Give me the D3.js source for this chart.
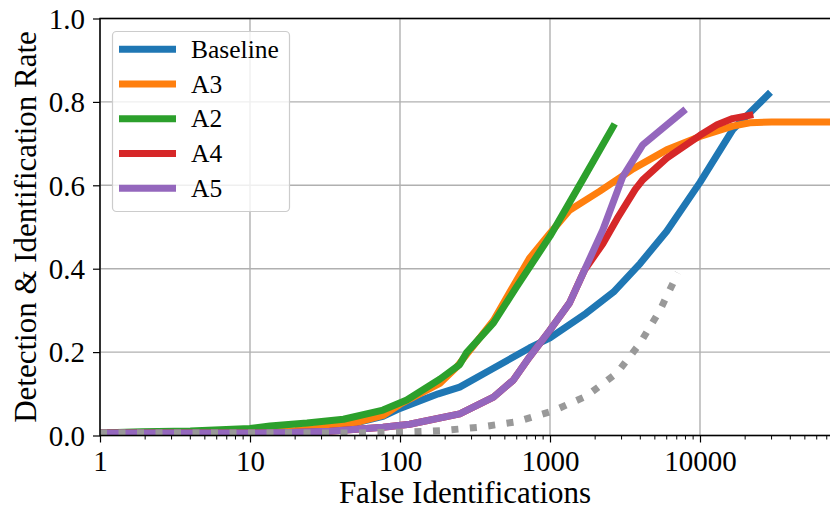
<!DOCTYPE html>
<html>
<head>
<meta charset="utf-8">
<script src="https://cdn.jsdelivr.net/npm/d3@7/dist/d3.min.js"></script>
<style>
  html, body { margin: 0; padding: 0; background: #fff; overflow: hidden; }
  svg { display: block; }
  text { font-family: "Liberation Serif", "Times New Roman", serif; fill: #000; }
</style>
</head>
<body>
<svg id="chart" width="830" height="516"></svg>
<script>
// ---------------- data ----------------
const seriesNames = ["Baseline", "A3", "A2", "A4", "A5"];
const seriesColors = ["#1f77b4", "#ff7f0e", "#2ca02c", "#d62728", "#9467bd"];

const baselineX = [1, 2, 5, 10, 20, 30, 40, 50, 77, 100, 180, 250, 400, 730, 1000, 1740, 2650, 4000, 6000, 10000, 16500, 28400];
const baselineY = [0.006, 0.006, 0.006, 0.007, 0.009, 0.015, 0.022, 0.03, 0.046, 0.065, 0.1, 0.116, 0.157, 0.21, 0.234, 0.293, 0.344, 0.413, 0.49, 0.607, 0.733, 0.817];

const a3X = [1, 2, 5, 10, 20, 30, 50, 77, 100, 184, 240, 420, 540, 730, 1000, 1350, 2150, 3600, 6000, 10000, 16500, 21500, 30000, 80000];
const a3Y = [0.006, 0.006, 0.006, 0.007, 0.012, 0.018, 0.03, 0.048, 0.075, 0.125, 0.165, 0.276, 0.344, 0.425, 0.485, 0.54, 0.586, 0.64, 0.685, 0.717, 0.742, 0.75, 0.752, 0.752];

const a2X = [1, 1.9, 4, 10, 13.6, 24, 42, 77, 111, 184, 250, 277, 420, 600, 1000, 1650, 2630];
const a2Y = [0.006, 0.009, 0.011, 0.017, 0.023, 0.03, 0.039, 0.061, 0.085, 0.135, 0.17, 0.198, 0.27, 0.357, 0.478, 0.613, 0.74];

const a4X = [1, 2, 5, 10, 18, 34, 77, 116, 250, 420, 570, 730, 1000, 1350, 1700, 2250, 2800, 3700, 4150, 6000, 10000, 13000, 16500, 21500];
const a4Y = [0.006, 0.006, 0.006, 0.006, 0.007, 0.01, 0.02, 0.027, 0.052, 0.092, 0.133, 0.188, 0.253, 0.318, 0.397, 0.46, 0.52, 0.59, 0.613, 0.665, 0.72, 0.745, 0.76, 0.768];

const a5X = [1, 2, 5, 10, 18, 34, 77, 116, 250, 420, 570, 730, 1000, 1350, 1700, 2250, 3050, 4150, 7700];
const a5Y = [0.006, 0.006, 0.006, 0.006, 0.007, 0.01, 0.02, 0.027, 0.052, 0.092, 0.133, 0.188, 0.253, 0.318, 0.397, 0.493, 0.62, 0.697, 0.777];

const refX = [1, 10, 50, 100, 150, 195, 340, 600, 1050, 1740, 2800, 3980, 5400, 7130];
const refY = [0.006, 0.006, 0.006, 0.008, 0.01, 0.012, 0.02, 0.033, 0.059, 0.094, 0.15, 0.221, 0.3, 0.39];

const xTickValues = [1, 10, 100, 1000, 10000];
const xTickLabels = ["1", "10", "100", "1000", "10000"];
const yTickValues = [0, 0.2, 0.4, 0.6, 0.8, 1.0];
const yTickLabels = ["0.0", "0.2", "0.4", "0.6", "0.8", "1.0"];
const xLabel = "False Identifications";
const yLabel = "Detection & Identification Rate";

// ---------------- layout ----------------
const pL = 100, pR = 832, pT = 18.5, pB = 435.5;
const svg = d3.select("#chart");

const x = d3.scaleLog().domain([1, Math.pow(10, (pR - pL) / 150)]).range([pL, pR]);
const y = d3.scaleLinear().domain([0, 1]).range([pB, pT]);

svg.append("defs").append("clipPath").attr("id", "plotclip")
  .append("rect").attr("x", pL).attr("y", pT).attr("width", pR - pL).attr("height", pB - pT);

// grid
const grid = svg.append("g");
grid.selectAll(".gx").data(xTickValues).enter().append("line")
  .attr("x1", d => x(d)).attr("x2", d => x(d)).attr("y1", pT).attr("y2", pB)
  .attr("stroke", "#b0b0b0").attr("stroke-width", 1.4);
grid.selectAll(".gy").data(yTickValues).enter().append("line")
  .attr("x1", pL).attr("x2", pR).attr("y1", d => y(d)).attr("y2", d => y(d))
  .attr("stroke", "#b0b0b0").attr("stroke-width", 1.4);

// lines
const seriesX = [baselineX, a3X, a2X, a4X, a5X];
const seriesY = [baselineY, a3Y, a2Y, a4Y, a5Y];
const line = d3.line().x(d => x(d[0])).y(d => y(d[1]));
const plot = svg.append("g").attr("clip-path", "url(#plotclip)");
seriesNames.forEach((name, i) => {
  const pts = seriesX[i].map((v, k) => [v, seriesY[i][k]]);
  plot.append("path").attr("d", line(pts))
    .attr("fill", "none").attr("stroke", seriesColors[i]).attr("stroke-width", 7)
    .attr("stroke-linejoin", "round").attr("stroke-linecap", "square");
});
plot.append("path").attr("d", line(refX.map((v, k) => [v, refY[k]])))
  .attr("fill", "none").attr("stroke", "#999999").attr("stroke-width", 7)
  .attr("stroke-dasharray", "7 11.5").attr("stroke-linecap", "butt");

// axes
const xAxis = d3.axisBottom(x).tickValues(xTickValues).tickFormat((d, i) => xTickLabels[i]).tickSize(7).tickPadding(5);
const gx = svg.append("g").attr("transform", `translate(0,${pB})`).call(xAxis);
gx.select(".domain").remove();
gx.selectAll("line").attr("stroke", "#000").attr("stroke-width", 1.2);
gx.selectAll("text").attr("font-size", 29).attr("font-family", "Liberation Serif").attr("dy", "0.8em");

const minor = [];
for (let e = 0; e < 5; e++) for (let m = 2; m <= 9; m++) { const v = m * Math.pow(10, e); if (x(v) <= pR) minor.push(v); }
svg.append("g").selectAll("line").data(minor).enter().append("line")
  .attr("x1", d => x(d)).attr("x2", d => x(d)).attr("y1", pB).attr("y2", pB + 4)
  .attr("stroke", "#000").attr("stroke-width", 1);

const yAxis = d3.axisLeft(y).tickValues(yTickValues).tickFormat((d, i) => yTickLabels[i]).tickSize(7).tickPadding(8);
const gy = svg.append("g").attr("transform", `translate(${pL},0)`).call(yAxis);
gy.select(".domain").remove();
gy.selectAll("line").attr("stroke", "#000").attr("stroke-width", 1.2);
gy.selectAll("text").attr("font-size", 29).attr("font-family", "Liberation Serif").attr("dy", "0.34em");

// spines
svg.append("rect").attr("x", pL).attr("y", pT).attr("width", pR - pL).attr("height", pB - pT)
  .attr("fill", "none").attr("stroke", "#000").attr("stroke-width", 1.5);

// axis labels
svg.append("text").attr("x", (pL + 830) / 2).attr("y", 503).attr("text-anchor", "middle")
  .attr("font-size", 31).text(xLabel);
svg.append("text").attr("transform", `translate(36,${(pT + pB) / 2}) rotate(-90)`)
  .attr("text-anchor", "middle").attr("font-size", 31).text(yLabel);

// legend
const lg = svg.append("g");
lg.append("rect").attr("x", 112.5).attr("y", 31.5).attr("width", 177).attr("height", 180).attr("rx", 4)
  .attr("fill", "#fff").attr("fill-opacity", 0.8).attr("stroke", "#cccccc").attr("stroke-width", 1.2);
seriesNames.forEach((name, i) => {
  const cy = 49.3 + i * 34.75;
  lg.append("line").attr("x1", 119).attr("x2", 176).attr("y1", cy).attr("y2", cy)
    .attr("stroke", seriesColors[i]).attr("stroke-width", 7);
  lg.append("text").attr("x", 191).attr("y", cy + 8.5).attr("font-size", 25.5).text(name);
});
</script>
</body>
</html>
